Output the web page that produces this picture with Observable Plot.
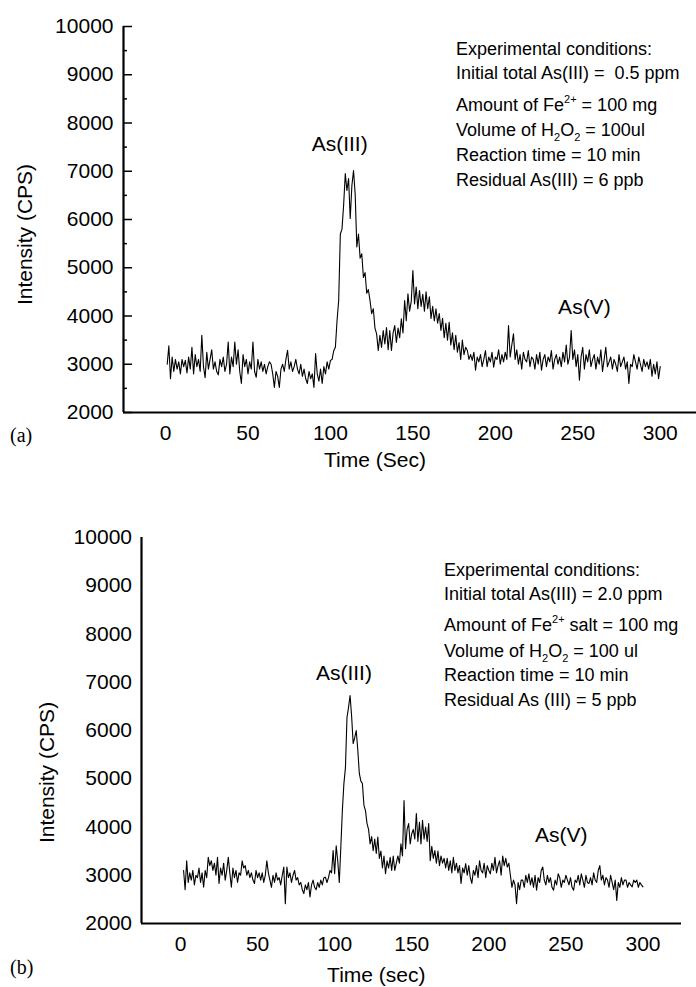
<!DOCTYPE html>
<html>
<head>
<meta charset="utf-8">
<script src="https://cdn.jsdelivr.net/npm/d3@7"></script>
<script src="https://cdn.jsdelivr.net/npm/@observablehq/plot@0.6"></script>
<style>
  body { margin: 0; background: #fff; }
  #fig { position: relative; width: 696px; height: 987px; background: #fff; color: #000;
         font-family: "Liberation Sans", Arial, Helvetica, sans-serif; }
  .panel { position: absolute; left: 0; }
  .cond { position: absolute; font-size: 18px; line-height: 18px; white-space: nowrap; }
  .cond sup { font-size: 11px; vertical-align: 8px; line-height: 0; }
  .cond sub { font-size: 11px; vertical-align: -5px; line-height: 0; }
  .plabel { position: absolute; left: 10px; font-family: "Liberation Serif", "Times New Roman", serif;
            font-size: 20px; line-height: 20px; }
</style>
</head>
<body>
<div id="fig"></div>
<script>
// ---------- data ----------
const yTicks = [2000, 3000, 4000, 5000, 6000, 7000, 8000, 9000, 10000];
const yMinorTicks = [2500, 3500, 4500, 5500, 6500, 7500, 8500, 9500];
const xTicks = [0, 50, 100, 150, 200, 250, 300];

// Panel (a): sampled every 1 s starting at t = 1 s
const timeStartA = 1, timeStepA = 1;
const intensityA = [
  3000, 3380, 2700, 3150, 2850, 3100, 2900, 3050, 2800, 3100,
  2950, 3080, 2820, 3150, 2900, 3350, 2800, 3200, 2950, 3100,
  2850, 3600, 2950, 2720, 3250, 2900, 3100, 3300, 2900, 3050,
  2850, 2780, 3100, 2950, 3150, 2850, 3000, 3460, 2800, 3150,
  2950, 3460, 3000, 3300, 2850, 2600, 3200, 2950, 3100, 2800,
  3050, 2900, 3460, 2850, 2730, 3100, 2900, 3050, 2850, 3000,
  2800, 2950, 3050, 3000, 2800, 2520, 2850, 2750, 2520, 2900,
  3000, 2850, 3100, 3290, 2900, 3050, 2850, 2950, 3100, 2900,
  2800, 3000, 2750, 2900, 2700, 2600, 2850, 2700, 2800, 2520,
  3220, 2800, 2650, 2900, 2600, 2950, 2800, 3050, 2900, 3080,
  3100, 3280, 3350, 3900, 4320, 5700, 5800, 6300, 6950, 6600,
  6850, 6020, 6700, 7015, 6530, 5430, 5700, 5200, 5290, 4800,
  4900, 4470, 4550, 4320, 4050, 4150, 3750, 3630, 3285, 3600,
  3350, 3700, 3420, 3760, 3300, 3700, 3285, 3650, 3800, 3450,
  3750, 3550, 3940, 3650, 4320, 3900, 4460, 4100, 4300, 4940,
  4250, 4600, 4150, 4530, 4200, 4450, 4100, 4500, 4150, 4400,
  3950, 4200, 3900, 4150, 3850, 4050, 3700, 3950, 3550, 3850,
  3500, 3870, 3400, 3650, 3300, 3600, 3250, 3450, 3100, 3500,
  3200, 3350, 3290, 3100, 3200, 3080, 3250, 2875, 3150, 3050,
  3200, 2950, 3100, 3285, 2950, 3150, 3050, 3250, 2940, 3150,
  3100, 3300, 3000, 3200, 3050, 3250, 3100, 3800, 3150, 3400,
  3630, 3100, 3300, 3000, 3200, 2900, 3250, 3100, 3050, 3285,
  2950, 3150, 3100, 2900, 3200, 3000, 3250, 2875, 3100, 3200,
  2950, 3150, 3050, 3285, 2900, 3100, 3200, 3000, 3150, 2950,
  3250, 3050, 3400, 3000, 3150, 3700, 3100, 3300, 2950, 3200,
  2670, 3150, 3350, 2900, 3200, 3050, 3300, 2950, 3100, 3200,
  2900, 3150, 3000, 3300, 2850, 3100, 3350, 2950, 3050, 3150,
  2900, 3100, 3000, 2850, 3200, 2950, 3050, 3150, 2900, 3050,
  2600, 3000, 2950, 3200, 3050, 2900, 3150, 3000, 2850, 3100,
  2950, 3050, 2900, 3100, 2750, 3000, 2800, 3050, 2700, 2950
];

// Panel (b): sampled every 1 s starting at t = 2 s
const timeStartB = 2, timeStepB = 1;
const intensityB = [
  3100, 2700, 3300, 2850, 3050, 2900, 3100, 2800, 3000, 2950,
  3150, 2850, 3050, 2750, 3100, 2950, 3370, 3200, 3300, 3100,
  3250, 3000, 3370, 2830, 3150, 3000, 3250, 2900, 3100, 3370,
  3050, 2750, 3150, 2950, 3100, 2850, 3050, 3000, 3300, 3150,
  3200, 3000, 3100, 2950, 3050, 2900, 2830, 3100, 2950, 3050,
  2900, 3050, 2850, 3000, 3300, 3050, 2900, 2750, 3000, 2850,
  3050, 2900, 2950, 2800, 3000, 3170, 2410, 3170, 2950, 3050,
  2850, 3000, 3100, 2900, 2950, 2800, 2850, 2700, 2620, 2800,
  2700, 2850, 2550, 2800, 2900, 2750, 2700, 2850, 2750, 2900,
  2800, 2950, 2960, 2850, 2950, 3100, 3050, 3510, 3030, 3610,
  3300, 2850, 3580, 4340, 4900, 5230, 6270, 6480, 6725, 6300,
  5730, 5850, 6000, 5600, 5110, 4950, 4900, 4450, 4340, 4070,
  3950, 3650, 3800, 3510, 3750, 3450, 3790, 3350, 3500, 3150,
  3400, 3030, 3300, 3150, 3370, 3100, 3400, 3100, 3250, 3400,
  3250, 3650, 3400, 4550, 3550, 3950, 4070, 3650, 3860, 3950,
  3750, 4280, 3700, 4100, 3650, 4140, 3750, 4000, 3700, 4070,
  3300, 3600, 3350, 3510, 3250, 3500, 3200, 3400, 3250, 3350,
  3150, 3350, 3100, 3300, 3050, 3370, 3100, 3250, 3050, 3200,
  2830, 3150, 3050, 3240, 3000, 3200, 2950, 2830, 3100, 3000,
  3200, 2950, 3300, 3100, 3050, 3250, 2950, 3200, 3100, 3030,
  3250, 3100, 3370, 3050, 3200, 3300, 3000, 3400, 3200, 3350,
  3170, 3250, 3000, 2750, 2900, 2800, 2410, 2850, 2700, 2900,
  2900, 2750, 3000, 2850, 3030, 2800, 2950, 2750, 3000, 2690,
  2950, 2850, 3100, 3170, 2900, 2800, 3000, 2850, 2950, 2750,
  2690, 2900, 2800, 3030, 2950, 2750, 2900, 2850, 3000, 2900,
  2800, 2950, 2750, 2690, 2900, 2850, 3000, 2800, 3030, 2900,
  2750, 3000, 2850, 2830, 2950, 2800, 3050, 2900, 2850, 3100,
  3200, 2900, 3000, 2800, 2950, 2900, 2750, 3000, 2850, 2700,
  2900, 2480, 2850, 2750, 2950, 2800, 2900, 2900, 2750, 2850,
  2800, 2760, 2900, 2850, 2900, 2750, 2850, 2800, 2760
];

const peakNames = ["As(III)", "As(V)"];
const peakTimesA = [105.6, 254];
const peakIntensityA = [7554, 4176];
const peakTimesB = [106, 247];
const peakIntensityB = [7181, 3824];

const yTitle = "Intensity (CPS)";
const xTitleA = "Time (Sec)";
const xTitleB = "Time (sec)";
const panelTags = ["(a)", "(b)"];

const conditionsA = [
  "Experimental conditions:",
  "Initial total As(III) = &nbsp;0.5 ppm",
  "Amount of Fe<sup>2+</sup> = 100 mg",
  "Volume of H<sub>2</sub>O<sub>2</sub> = 100ul",
  "Reaction time = 10 min",
  "Residual As(III) = 6 ppb"
];
const conditionsB = [
  "Experimental conditions:",
  "Initial total As(III) = 2.0 ppm",
  "Amount of Fe<sup>2+</sup> salt = 100 mg",
  "Volume of H<sub>2</sub>O<sub>2</sub> = 100 ul",
  "Reaction time = 10 min",
  "Residual As (III) = 5 ppb"
];

// ---------- layout ----------
const FONT = "Liberation Sans, Arial, Helvetica, sans-serif";
const panels = [
  {
    top: 0, height: 470, marginTop: 26, marginLeft: 123, marginRight: 0, marginBottom: 58,
    xDomain: [-25.5, 322], tStart: timeStartA, tStep: timeStepA, values: intensityA,
    peakT: peakTimesA, peakV: peakIntensityA, xTitle: xTitleA, xTitleT: 127, xTitleDy: 48,
    yTitleV: 5689, yTitleDx: -98, inwardTicks: true, yPad: 10,
    conditions: conditionsA, condLeft: 456, condCenters: [49, 73, 105, 130, 155, 180],
    tag: panelTags[0], tagTop: 425
  },
  {
    top: 490, height: 497, marginTop: 47, marginLeft: 141, marginRight: 15, marginBottom: 64,
    xDomain: [-25.3, 325], tStart: timeStartB, tStep: timeStepB, values: intensityB,
    peakT: peakTimesB, peakV: peakIntensityB, xTitle: xTitleB, xTitleT: 127, xTitleDy: 52,
    yTitleV: 5130, yTitleDx: -94, inwardTicks: false, yPad: 9.5,
    conditions: conditionsB, condLeft: 444, condCenters: [570, 594, 625, 651, 675, 700],
    tag: panelTags[1], tagTop: 957
  }
];

const fig = document.getElementById("fig");
const yDomain = [yTicks[0], yTicks[yTicks.length - 1]];

for (const p of panels) {
  const series = p.values.map((v, i) => ({t: p.tStart + i * p.tStep, v}));
  const peaks = peakNames.map((name, i) => ({name, t: p.peakT[i], v: p.peakV[i]}));
  const innerW = 696 - p.marginLeft - p.marginRight;
  const marks = [
    Plot.line(series, {x: "t", y: "v", stroke: "black", strokeWidth: 1.1}),
    Plot.ruleX([p.xDomain[0]], {stroke: "black", strokeWidth: 2.2}),
    Plot.ruleY([yDomain[0]], {stroke: "black", strokeWidth: 2.2}),
    Plot.axisY({ticks: yTicks, tickSize: 0, tickPadding: p.yPad, fontSize: 21,
                tickFormat: d => `${d}`, label: null}),
    Plot.axisX({ticks: xTicks, tickSize: 0, tickPadding: 12.6, fontSize: 21,
                tickFormat: d => `${d}`, label: null}),
    Plot.text(peaks, {x: "t", y: "v", text: "name", fontSize: 21, fill: "black"}),
    Plot.text([p.xTitle], {x: () => p.xTitleT, frameAnchor: "bottom", dy: p.xTitleDy,
                           fontSize: 21, fill: "black", lineAnchor: "middle"}),
    Plot.text([yTitle], {y: () => p.yTitleV, frameAnchor: "left", dx: p.yTitleDx, rotate: -90,
                         fontSize: 21, fill: "black", lineAnchor: "middle", textAnchor: "middle"})
  ];
  if (p.inwardTicks) {
    marks.push(Plot.tickY(yTicks, {y: d => d, stroke: "black", strokeWidth: 1.5, insetRight: innerW - 9}));
    marks.push(Plot.tickY(yMinorTicks, {y: d => d, stroke: "black", strokeWidth: 1.5, insetRight: innerW - 4}));
  }
  const chart = Plot.plot({
    width: 696, height: p.height,
    marginTop: p.marginTop, marginLeft: p.marginLeft, marginRight: p.marginRight, marginBottom: p.marginBottom,
    x: {domain: p.xDomain},
    y: {domain: yDomain},
    style: {fontFamily: FONT, fontSize: "21px", color: "black", background: "transparent", overflow: "visible"},
    marks
  });
  const wrap = document.createElement("div");
  wrap.className = "panel";
  wrap.style.top = p.top + "px";
  wrap.appendChild(chart);
  fig.appendChild(wrap);

  p.conditions.forEach((line, i) => {
    const d = document.createElement("div");
    d.className = "cond";
    d.style.left = p.condLeft + "px";
    d.style.top = (p.condCenters[i] - 9.5) + "px";
    d.innerHTML = line;
    fig.appendChild(d);
  });

  const tag = document.createElement("div");
  tag.className = "plabel";
  tag.style.top = p.tagTop + "px";
  tag.textContent = p.tag;
  fig.appendChild(tag);
}
</script>
</body>
</html>
